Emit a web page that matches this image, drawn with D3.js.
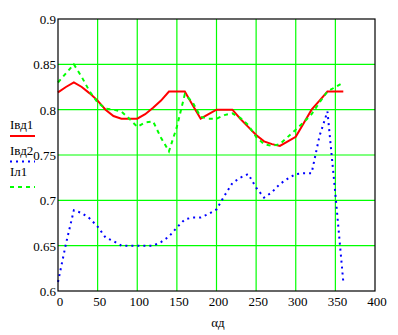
<!DOCTYPE html>
<html><head><meta charset="utf-8">
<script src="https://cdn.jsdelivr.net/npm/d3@7"></script>
<style>body{margin:0;background:#fff}svg{display:block}</style>
</head><body><svg id="c" width="398" height="335" font-family="'Liberation Serif', 'Times New Roman', Times, serif"></svg>
<script>
const angles = [0,10,20,30,40,50,60,70,80,90,100,110,120,130,140,150,160,170,180,190,200,210,220,230,240,250,260,270,280,290,300,310,320,330,340,350,360];
const Ivd1 = [0.819,0.825,0.83,0.825,0.818,0.81,0.80,0.793,0.79,0.79,0.79,0.795,0.802,0.81,0.82,0.82,0.82,0.805,0.79,0.795,0.80,0.80,0.80,0.79,0.781,0.772,0.765,0.762,0.76,0.765,0.77,0.785,0.80,0.81,0.82,0.82,0.82];
const Ivd2 = [0.61,0.652,0.689,0.686,0.68,0.671,0.659,0.655,0.65,0.65,0.65,0.65,0.65,0.654,0.66,0.67,0.679,0.681,0.681,0.685,0.69,0.705,0.719,0.725,0.729,0.714,0.703,0.709,0.718,0.724,0.729,0.73,0.73,0.771,0.798,0.707,0.61];
const Il1 = [0.83,0.84,0.85,0.836,0.82,0.808,0.801,0.80,0.798,0.79,0.781,0.786,0.787,0.769,0.754,0.781,0.817,0.808,0.792,0.79,0.79,0.794,0.796,0.791,0.783,0.77,0.762,0.76,0.762,0.77,0.778,0.786,0.795,0.808,0.82,0.825,0.83];
const xTicks = [0,50,100,150,200,250,300,350,400];
const yTicks = [0.6,0.65,0.7,0.75,0.8,0.85,0.9];
const seriesNames = ["Iвд1","Iвд2","Iл1"];
const xLabel = "αд";

const svg = d3.select("#c");
const L=58,R=375,T=19,B=291;
const x = d3.scaleLinear().domain([0,400]).range([L,R]);
const y = d3.scaleLinear().domain([0.6,0.9]).range([B,T]);

// grid
svg.append("g").selectAll("line").data(xTicks.slice(1,-1)).join("line")
  .attr("x1",d=>x(d)).attr("x2",d=>x(d)).attr("y1",T).attr("y2",B)
  .attr("stroke","#00ff00").attr("stroke-width",1.2);
svg.append("g").selectAll("line").data(yTicks.slice(1,-1)).join("line")
  .attr("y1",d=>y(d)).attr("y2",d=>y(d)).attr("x1",L).attr("x2",R)
  .attr("stroke","#00ff00").attr("stroke-width",1.2);

// tick labels
svg.append("g").selectAll("text").data(yTicks).join("text")
  .attr("x",L-2).attr("y",d=>y(d)+5).attr("text-anchor","end")
  .attr("font-size",13).attr("fill","#000").text(d=>String(+d.toFixed(2)));
svg.append("g").selectAll("text").data(xTicks).join("text")
  .attr("x",d=>x(d)+2).attr("y",B+15).attr("text-anchor","middle")
  .attr("font-size",13).attr("fill","#000").text(d=>d);
svg.append("text").attr("x",218).attr("y",327).attr("text-anchor","middle")
  .attr("font-size",13).attr("fill","#000").text(xLabel);

const line = d3.line().x((d,i)=>x(angles[i])).y(d=>y(d));
const styles = [
  {data:Ivd1,color:"#ff0000",w:2,dash:null},
  {data:Ivd2,color:"#0000ff",w:2,dash:"2,4"},
  {data:Il1,color:"#00ff00",w:2,dash:"4,4"}
];
styles.forEach(s=>{
  svg.append("path").attr("d",line(s.data)).attr("fill","none")
    .attr("stroke",s.color).attr("stroke-width",s.w)
    .attr("stroke-dasharray",s.dash);
});

// frame
svg.append("rect").attr("x",L).attr("y",T).attr("width",R-L).attr("height",B-T)
  .attr("fill","none").attr("stroke","#000").attr("stroke-width",1.2);

// legend
const legY = [129,155,176];
const lineY = [136,161.5,187];
seriesNames.forEach((n,i)=>{
  svg.append("text").attr("x",10).attr("y",legY[i]).attr("font-size",13).attr("fill","#000").text(n);
  svg.append("line").attr("x1",10).attr("x2",35).attr("y1",lineY[i]).attr("y2",lineY[i])
    .attr("stroke",styles[i].color).attr("stroke-width",2)
    .attr("stroke-dasharray",styles[i].dash);
});
</script></body></html>
